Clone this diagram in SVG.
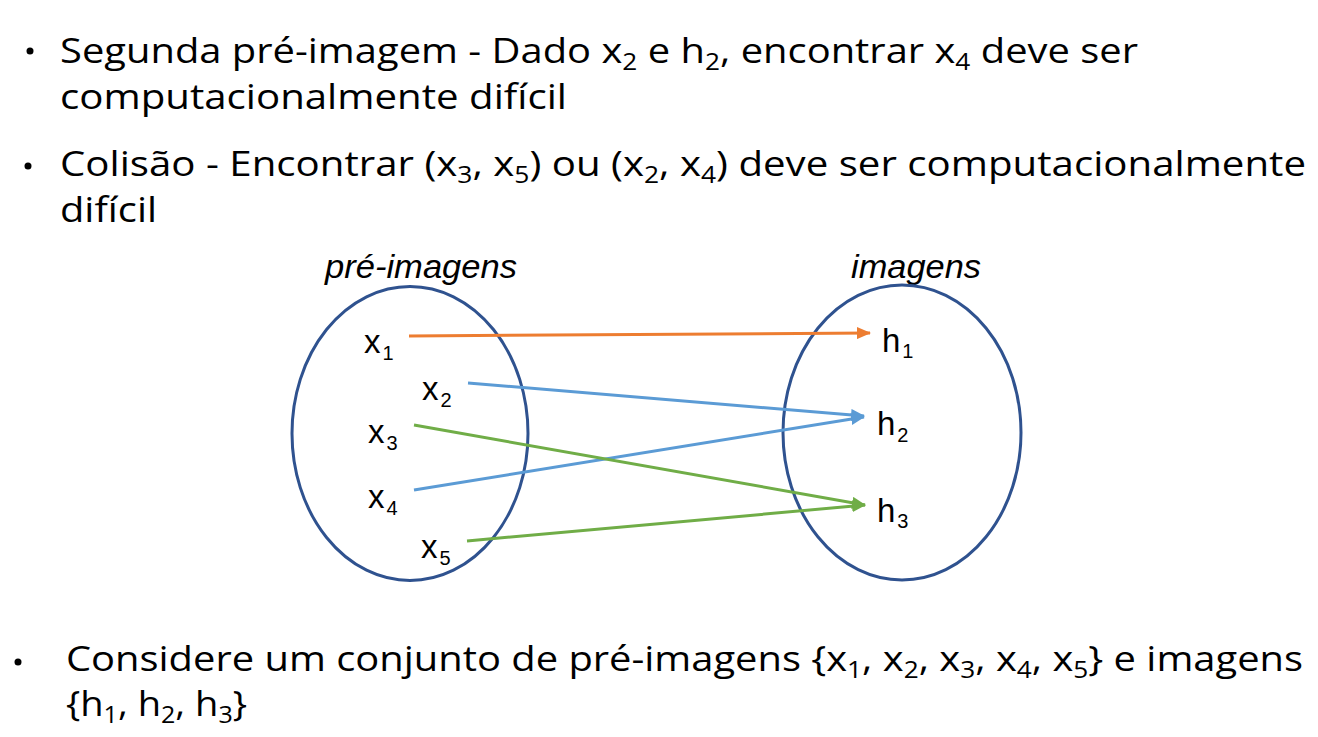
<svg xmlns="http://www.w3.org/2000/svg" width="1318" height="737" viewBox="0 0 1318 737">
  <style>
    .body { font-family: "Open Sans", "Noto Sans", "Liberation Sans", sans-serif; font-size: 35px; fill: #000; }
    .bsub { font-size: 23px; }
    .lbl { font-family: "Liberation Sans", Arial, sans-serif; font-size: 33px; fill: #000; }
    .lsub { font-size: 20px; }
    .title { font-family: "Liberation Sans", Arial, sans-serif; font-size: 33px; font-style: italic; fill: #000; }
    .set { fill: none; stroke: #2F528F; stroke-width: 3; }
    .edge { fill: none; stroke-width: 3; }
  </style>
  <defs>
    <marker id="ahOrange" markerUnits="userSpaceOnUse" markerWidth="14" markerHeight="12" refX="13" refY="6" orient="auto">
      <path d="M0,0 L14,6 L0,12 Z" fill="#ED7D31"/>
    </marker>
    <marker id="ahBlue" markerUnits="userSpaceOnUse" markerWidth="14" markerHeight="12" refX="13" refY="6" orient="auto">
      <path d="M0,0 L14,6 L0,12 Z" fill="#5B9BD5"/>
    </marker>
    <marker id="ahGreen" markerUnits="userSpaceOnUse" markerWidth="14" markerHeight="12" refX="13" refY="6" orient="auto">
      <path d="M0,0 L14,6 L0,12 Z" fill="#70AD47"/>
    </marker>
  </defs>

  <rect width="1318" height="737" fill="#fff"/>

  <!-- bullet text -->
  <g id="bullet-segunda">
    <circle cx="30" cy="51" r="3.5" fill="#000"/>
    <text class="body" x="60" y="63" textLength="1078" lengthAdjust="spacingAndGlyphs">Segunda pré-imagem - Dado x<tspan class="bsub" dy="7">2</tspan><tspan dy="-7"> e h</tspan><tspan class="bsub" dy="7">2</tspan><tspan dy="-7">, encontrar x</tspan><tspan class="bsub" dy="7">4</tspan><tspan dy="-7"> deve ser</tspan></text>
    <text class="body" x="60" y="109" textLength="507" lengthAdjust="spacingAndGlyphs">computacionalmente difícil</text>
  </g>
  <g id="bullet-colisao">
    <circle cx="28" cy="166" r="3.5" fill="#000"/>
    <text class="body" x="60" y="176" textLength="1246" lengthAdjust="spacingAndGlyphs">Colisão - Encontrar (x<tspan class="bsub" dy="7">3</tspan><tspan dy="-7">, x</tspan><tspan class="bsub" dy="7">5</tspan><tspan dy="-7">) ou (x</tspan><tspan class="bsub" dy="7">2</tspan><tspan dy="-7">, x</tspan><tspan class="bsub" dy="7">4</tspan><tspan dy="-7">) deve ser computacionalmente</tspan></text>
    <text class="body" x="60" y="222" textLength="97" lengthAdjust="spacingAndGlyphs">difícil</text>
  </g>
  <g id="bullet-considere">
    <circle cx="18" cy="662" r="3.5" fill="#000"/>
    <text class="body" x="66" y="671" textLength="1237" lengthAdjust="spacingAndGlyphs">Considere um conjunto de pré-imagens {x<tspan class="bsub" dy="7">1</tspan><tspan dy="-7">, x</tspan><tspan class="bsub" dy="7">2</tspan><tspan dy="-7">, x</tspan><tspan class="bsub" dy="7">3</tspan><tspan dy="-7">, x</tspan><tspan class="bsub" dy="7">4</tspan><tspan dy="-7">, x</tspan><tspan class="bsub" dy="7">5</tspan><tspan dy="-7">} e imagens</tspan></text>
    <text class="body" x="66" y="716" textLength="181" lengthAdjust="spacingAndGlyphs">{h<tspan class="bsub" dy="7">1</tspan><tspan dy="-7">, h</tspan><tspan class="bsub" dy="7">2</tspan><tspan dy="-7">, h</tspan><tspan class="bsub" dy="7">3</tspan><tspan dy="-7">}</tspan></text>
  </g>

  <!-- domain set -->
  <g id="pre-imagens">
    <text class="title" x="325" y="278" textLength="192" lengthAdjust="spacingAndGlyphs">pré-imagens</text>
    <ellipse class="set" cx="410" cy="433.5" rx="118" ry="147"/>
  </g>
  <g id="x1"><text class="lbl" x="364" y="353">x<tspan class="lsub" dx="2" dy="7">1</tspan></text></g>
  <g id="x2"><text class="lbl" x="422" y="400">x<tspan class="lsub" dx="2" dy="7">2</tspan></text></g>
  <g id="x3"><text class="lbl" x="368" y="443">x<tspan class="lsub" dx="2" dy="7">3</tspan></text></g>
  <g id="x4"><text class="lbl" x="368" y="508">x<tspan class="lsub" dx="2" dy="7">4</tspan></text></g>
  <g id="x5"><text class="lbl" x="421" y="558">x<tspan class="lsub" dx="2" dy="7">5</tspan></text></g>

  <!-- codomain set -->
  <g id="imagens">
    <text class="title" x="851" y="278" textLength="130" lengthAdjust="spacingAndGlyphs">imagens</text>
    <ellipse class="set" cx="902" cy="432.5" rx="119" ry="147.5"/>
  </g>
  <g id="h1"><text class="lbl" x="882" y="352">h<tspan class="lsub" dx="2" dy="6">1</tspan></text></g>
  <g id="h2"><text class="lbl" x="877" y="435">h<tspan class="lsub" dx="2" dy="7">2</tspan></text></g>
  <g id="h3"><text class="lbl" x="877" y="522">h<tspan class="lsub" dx="2" dy="6">3</tspan></text></g>

  <!-- mappings -->
  <g id="connectors">
    <line class="edge" x1="409" y1="336" x2="870" y2="333" stroke="#ED7D31" marker-end="url(#ahOrange)"/>
    <line class="edge" x1="468" y1="383" x2="864" y2="416" stroke="#5B9BD5" marker-end="url(#ahBlue)"/>
    <line class="edge" x1="414" y1="490" x2="864" y2="417" stroke="#5B9BD5" marker-end="url(#ahBlue)"/>
    <line class="edge" x1="414" y1="425" x2="865" y2="505" stroke="#70AD47" marker-end="url(#ahGreen)"/>
    <line class="edge" x1="467" y1="541" x2="865" y2="505" stroke="#70AD47" marker-end="url(#ahGreen)"/>
  </g>
</svg>
